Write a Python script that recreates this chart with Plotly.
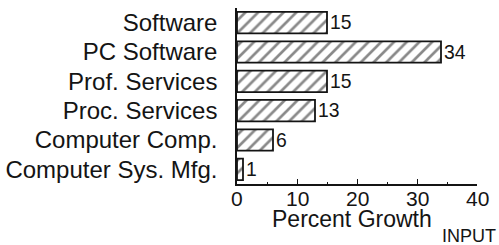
import plotly.graph_objects as go

categories = ["Software", "PC Software", "Prof. Services", "Proc. Services",
              "Computer Comp.", "Computer Sys. Mfg."]
growth = [15, 34, 15, 13, 6, 1]
x_ticks = [0, 10, 20, 30, 40]

FONT = "Liberation Sans, Arial, Helvetica, sans-serif"
INK = "#141414"

fig = go.Figure(go.Bar(
    y=categories,
    x=growth,
    orientation="h",
    text=[str(v) for v in growth],
    textposition="outside",
    cliponaxis=False,
    textfont=dict(family=FONT, size=23.5, color=INK),
    marker=dict(
        color="white",
        line=dict(color=INK, width=1.8),
        pattern=dict(shape="/", fgcolor=INK, bgcolor="white",
                     size=9, solidity=0.3),
    ),
))

L, R, T, B = 237, 22, 8, 61
W, H = 499, 245

fig.update_layout(
    width=W, height=H, autosize=False,
    margin=dict(l=L, r=R, t=T, b=B, autoexpand=False),
    paper_bgcolor="white", plot_bgcolor="white",
    bargap=0.27,
    showlegend=False,
    font=dict(family=FONT, color=INK),
    xaxis=dict(
        range=[0, 40], tickvals=x_ticks, showticklabels=False,
        automargin=False,
        showgrid=False, zeroline=False,
        showline=True, linecolor=INK, linewidth=1.5,
        ticks="inside", ticklen=5, tickwidth=1.2, tickcolor=INK,
        minor=dict(dtick=5, tick0=0, ticks="inside", ticklen=2,
                   tickwidth=1.2, tickcolor=INK),
    ),
    yaxis=dict(
        categoryorder="array", categoryarray=categories[::-1],
        range=[-0.5, 5.5],
        automargin=False,
        showgrid=False, zeroline=False,
        showline=True, linecolor=INK, linewidth=1.5,
        ticks="", tickfont=dict(family=FONT, size=24),
        ticklabelstandoff=13,
    ),
)

# pixel -> paper helpers for the free-floating labels
plot_w = W - L - R
plot_h = H - T - B


def px(x):
    return (x - L) / plot_w


def py(y):
    return (H - B - y) / plot_h


# x tick labels, placed on the x axis scale, sitting tight under the axis
for t in x_ticks:
    fig.add_annotation(
        text=str(t), x=t, xref="x", y=py(198), yref="paper",
        showarrow=False, font=dict(family=FONT, size=21, color=INK),
        xanchor="center", yanchor="middle",
    )

fig.add_annotation(
    text="Percent Growth", x=px(352), y=py(219),
    xref="paper", yref="paper", showarrow=False,
    font=dict(family=FONT, size=23, color=INK),
    xanchor="center", yanchor="middle",
)
fig.add_annotation(
    text="INPUT", x=px(498), y=py(236),
    xref="paper", yref="paper", showarrow=False,
    font=dict(family=FONT, size=18, color=INK),
    xanchor="right", yanchor="middle",
)

fig.write_html(
    "out.html",
    config={"displayModeBar": False},
    post_script="document.body.style.margin='0';document.body.style.padding='0';",
)
